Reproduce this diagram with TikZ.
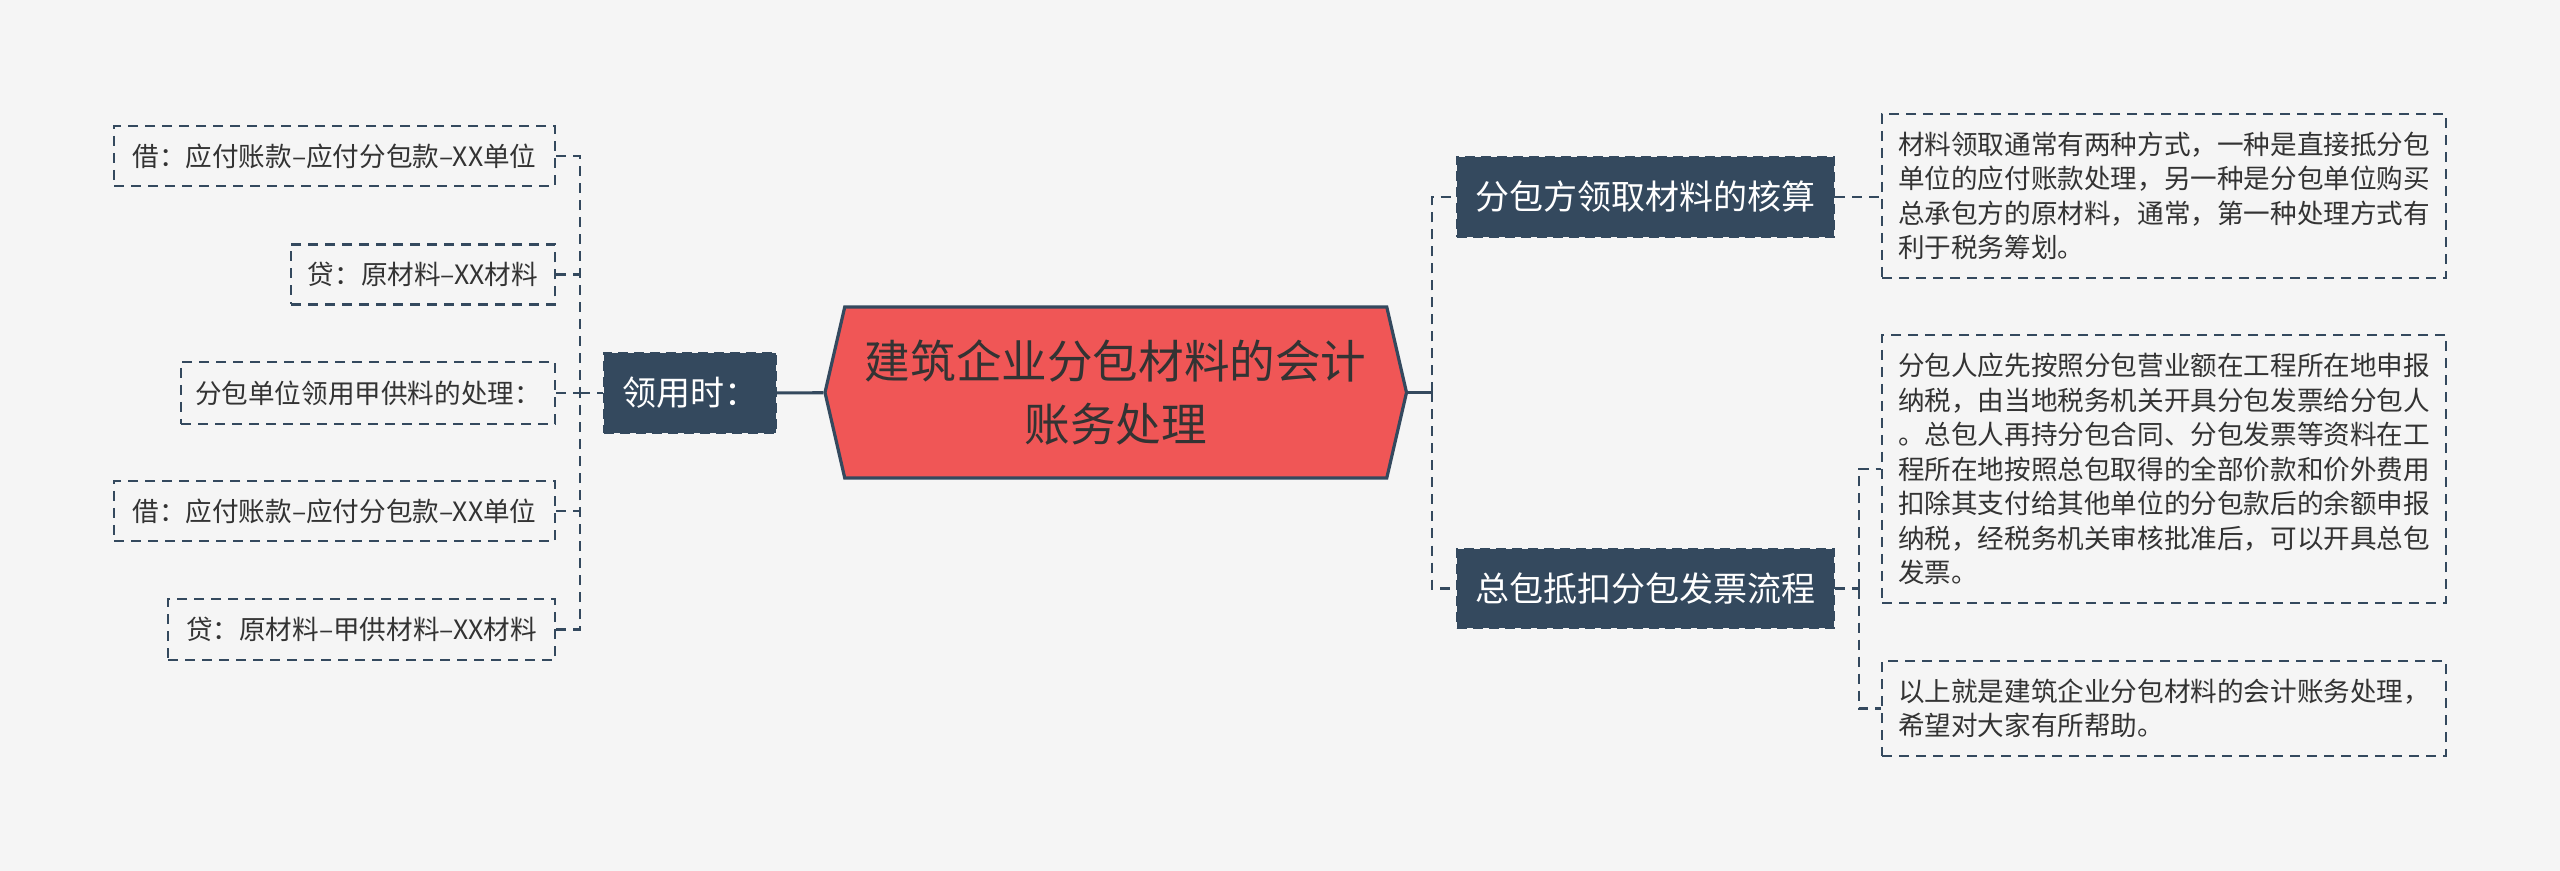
\documentclass[tikz,border=0pt]{standalone}
\usepackage{fontspec}
\setmainfont{Noto Sans CJK SC}
\usetikzlibrary{shapes.symbols}
\definecolor{dk}{HTML}{34495E}
\definecolor{redc}{HTML}{F05656}
\definecolor{bgc}{HTML}{F5F5F5}
\definecolor{tx}{HTML}{333333}
\begin{document}
\begin{tikzpicture}[x=0.5pt,y=-0.5pt,
  leaf/.style={draw=dk, dash pattern=on 5pt off 3.5pt, line width=1.3pt, text=tx,
    font=\fontsize{13.3}{17.25}\selectfont, inner sep=0pt, align=left},
  topic/.style={fill=dk, draw=dk, dash pattern=on 5pt off 3pt, line width=1.2pt, text=white,
    font=\fontsize{17}{20}\selectfont, inner sep=0pt},
  link/.style={draw=dk, line width=1.3pt, dash pattern=on 5pt off 3.5pt},
  solidlink/.style={draw=dk, line width=1.6pt},
]
\fill[bgc] (0,0) rectangle (2560,871);
\useasboundingbox (0,0) rectangle (2560,871);

% central
\node[signal, signal to=west and east, signal pointer angle=154,
  fill=redc, draw=dk, line width=1.6pt, minimum width=290.75pt, minimum height=85.5pt,
  inner sep=0pt, text=tx, align=center, font=\fontsize{22.8}{31.5}\selectfont]
  (c) at (1115.75,392.5) {建筑企业分包材料的会计\\账务处理};

% left
\node[topic, minimum width=86pt, minimum height=40pt] (use) at (690,393) {领用时：};
\node[leaf, minimum width=220.5pt, minimum height=30pt] (l1) at (334.5,156) {借：应付账款–应付分包款–XX单位};
\node[leaf, minimum width=132pt, minimum height=30pt] (l2) at (423,274.5) {贷：原材料–XX材料};
\node[leaf, minimum width=187pt, minimum height=31pt] (l3) at (368,393) {分包单位领用甲供料的处理：};
\node[leaf, minimum width=220.5pt, minimum height=30pt] (l4) at (334.5,511) {借：应付账款–应付分包款–XX单位};
\node[leaf, minimum width=193.5pt, minimum height=30.5pt] (l5) at (361.5,629.5) {贷：原材料–甲供材料–XX材料};

\coordinate (lt) at (580,393);
\draw[solidlink] (use) -- (c);
\draw[link] (lt) -- (use.west);
\draw[link] (l1.east) -| (lt);
\draw[link] (l5.east) -| (lt);
\draw[link] (l2.east) -- (l2.east -| lt);
\draw[link] (l3.east) -- (lt);
\draw[link] (l4.east) -- (l4.east -| lt);

% right
\node[topic, minimum width=188.5pt, minimum height=40pt] (r1) at (1645.5,197) {分包方领取材料的核算};
\node[topic, minimum width=188.5pt, minimum height=39.5pt] (r2) at (1645.5,588.5) {总包抵扣分包发票流程};

\node[leaf, minimum width=282pt, minimum height=82pt] (t1) at (2164,196)
  {材料领取通常有两种方式，一种是直接抵分包\\单位的应付账款处理，另一种是分包单位购买\\总承包方的原材料，通常，第一种处理方式有\\利于税务筹划。};
\node[leaf, minimum width=282pt, minimum height=134pt] (t2) at (2164,469)
  {分包人应先按照分包营业额在工程所在地申报\\纳税，由当地税务机关开具分包发票给分包人\\。总包人再持分包合同、分包发票等资料在工\\程所在地按照总包取得的全部价款和价外费用\\扣除其支付给其他单位的分包款后的余额申报\\纳税，经税务机关审核批准后，可以开具总包\\发票。};
\node[leaf, minimum width=282pt, minimum height=47.5pt] (t3) at (2164,708.5)
  {以上就是建筑企业分包材料的会计账务处理，\\希望对大家有所帮助。};

\coordinate (rt) at (1432,392.5);
\draw[solidlink] (c.east) -- (rt);
\draw[link] (rt) |- (r1.west);
\draw[link] (rt) |- (r2.west);
\draw[link] (r1.east) -- (r1.east -| t1.west);
\coordinate (bt) at (1859,588.5);
\draw[link] (r2.east) -- (bt);
\draw[link] (bt) |- (t2.west);
\draw[link] (bt) |- (t3.west);
\end{tikzpicture}
\end{document}
